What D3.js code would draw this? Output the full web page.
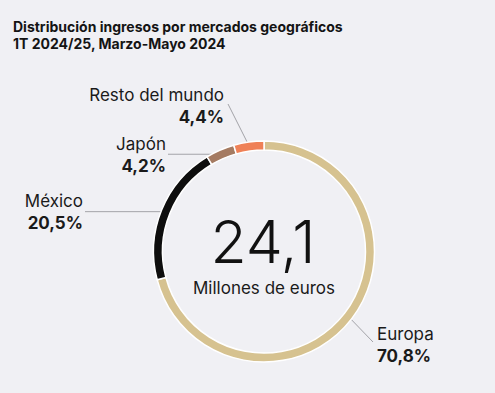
<!DOCTYPE html>
<html>
<head>
<meta charset="utf-8">
<script src="https://cdn.jsdelivr.net/npm/d3@7"></script>
<style>
  html, body { margin: 0; padding: 0; background: #f0f0f4; }
  svg { display: block; font-family: Inter, "Noto Sans", sans-serif; }
</style>
</head>
<body>
<svg id="chart"></svg>
<script>
// market shares, in drawing order (clockwise from 12 o'clock)
const markets = ["Europa", "México", "Japón", "Resto del mundo"];
const shares = [70.8, 20.5, 4.2, 4.4];
const shareLabels = ["70,8%", "20,5%", "4,2%", "4,4%"];
const colors = ["#d6c290", "#0e0e0e", "#a57b62", "#ef8157"];
const total = "24,1";
const totalUnit = "Millones de euros";
const titleLines = ["Distribución ingresos por mercados geográficos", "1T 2024/25, Marzo-Mayo 2024"];

const width = 495;
const height = 393;
const cx = 264, cy = 251.5;
const outerR = 110.5, innerR = 101.5;

// where each label sits (anchor = end of leader line)
const labelLayout = {
    "Europa": {x: 377, y: 340, anchor: "start", lx: 373, ly: 342},
    "México": {x: 83, y: 207, anchor: "end", lx: 85, ly: null},
    "Japón": {x: 166, y: 150, anchor: "end", lx: 168, ly: null},
    "Resto del mundo": {x: 224, y: 101, anchor: "end", lx: 228, ly: 104}
};

const svg = d3.select("#chart")
    .attr("width", width)
    .attr("height", height)
    .attr("viewBox", [0, 0, width, height]);

svg.append("g")
    .selectAll("text")
    .data(titleLines)
    .join("text")
    .attr("x", 13)
    .attr("y", (d, i) => 32 + i * 17)
    .style("font-size", "14px")
    .style("font-weight", 700)
    .style("fill", "#141414")
    .text(d => d);

const data = markets.map((m, i) => ({name: m, value: shares[i], label: shareLabels[i], color: colors[i]}));

const pie = d3.pie()
    .sort(null)
    .value(d => d.value);

const arcs = pie(data);

const arc = d3.arc()
    .innerRadius(innerR)
    .outerRadius(outerR);

const g = svg.append("g").attr("transform", `translate(${cx},${cy})`);

// leader lines (drawn under the ring)
g.append("g")
    .selectAll("line")
    .data(arcs)
    .join("line")
    .attr("x1", d => arc.centroid(d)[0])
    .attr("y1", d => arc.centroid(d)[1])
    .attr("x2", d => labelLayout[d.data.name].lx - cx)
    .attr("y2", d => {
        const l = labelLayout[d.data.name];
        return l.ly === null ? arc.centroid(d)[1] : l.ly - cy;
    })
    .style("stroke", "#a3a3a8")
    .style("stroke-width", 1);

g.append("g")
    .selectAll("path")
    .data(arcs)
    .join("path")
    .attr("d", arc)
    .style("fill", d => d.data.color)
    .style("stroke", "#ffffff")
    .style("stroke-width", 1.5);

// labels
const labels = svg.append("g")
    .selectAll("g")
    .data(arcs)
    .join("g");

labels.append("text")
    .attr("x", d => labelLayout[d.data.name].x)
    .attr("y", d => labelLayout[d.data.name].y)
    .attr("text-anchor", d => labelLayout[d.data.name].anchor)
    .style("font-size", "17px")
    .style("fill", "#1a1a1a")
    .text(d => d.data.name);

labels.append("text")
    .attr("x", d => labelLayout[d.data.name].x)
    .attr("y", d => labelLayout[d.data.name].y + 22)
    .attr("text-anchor", d => labelLayout[d.data.name].anchor)
    .style("font-size", "17px")
    .style("font-weight", 700)
    .style("fill", "#1a1a1a")
    .text(d => d.data.label);

// center total
svg.append("text")
    .attr("x", cx - 1)
    .attr("y", 263)
    .attr("text-anchor", "middle")
    .style("font-size", "59px")
    .style("font-weight", 300)
    .style("fill", "#111")
    .text(total);

svg.append("text")
    .attr("x", cx)
    .attr("y", 294)
    .attr("text-anchor", "middle")
    .style("font-size", "17px")
    .style("fill", "#1a1a1a")
    .text(totalUnit);
</script>
</body>
</html>
